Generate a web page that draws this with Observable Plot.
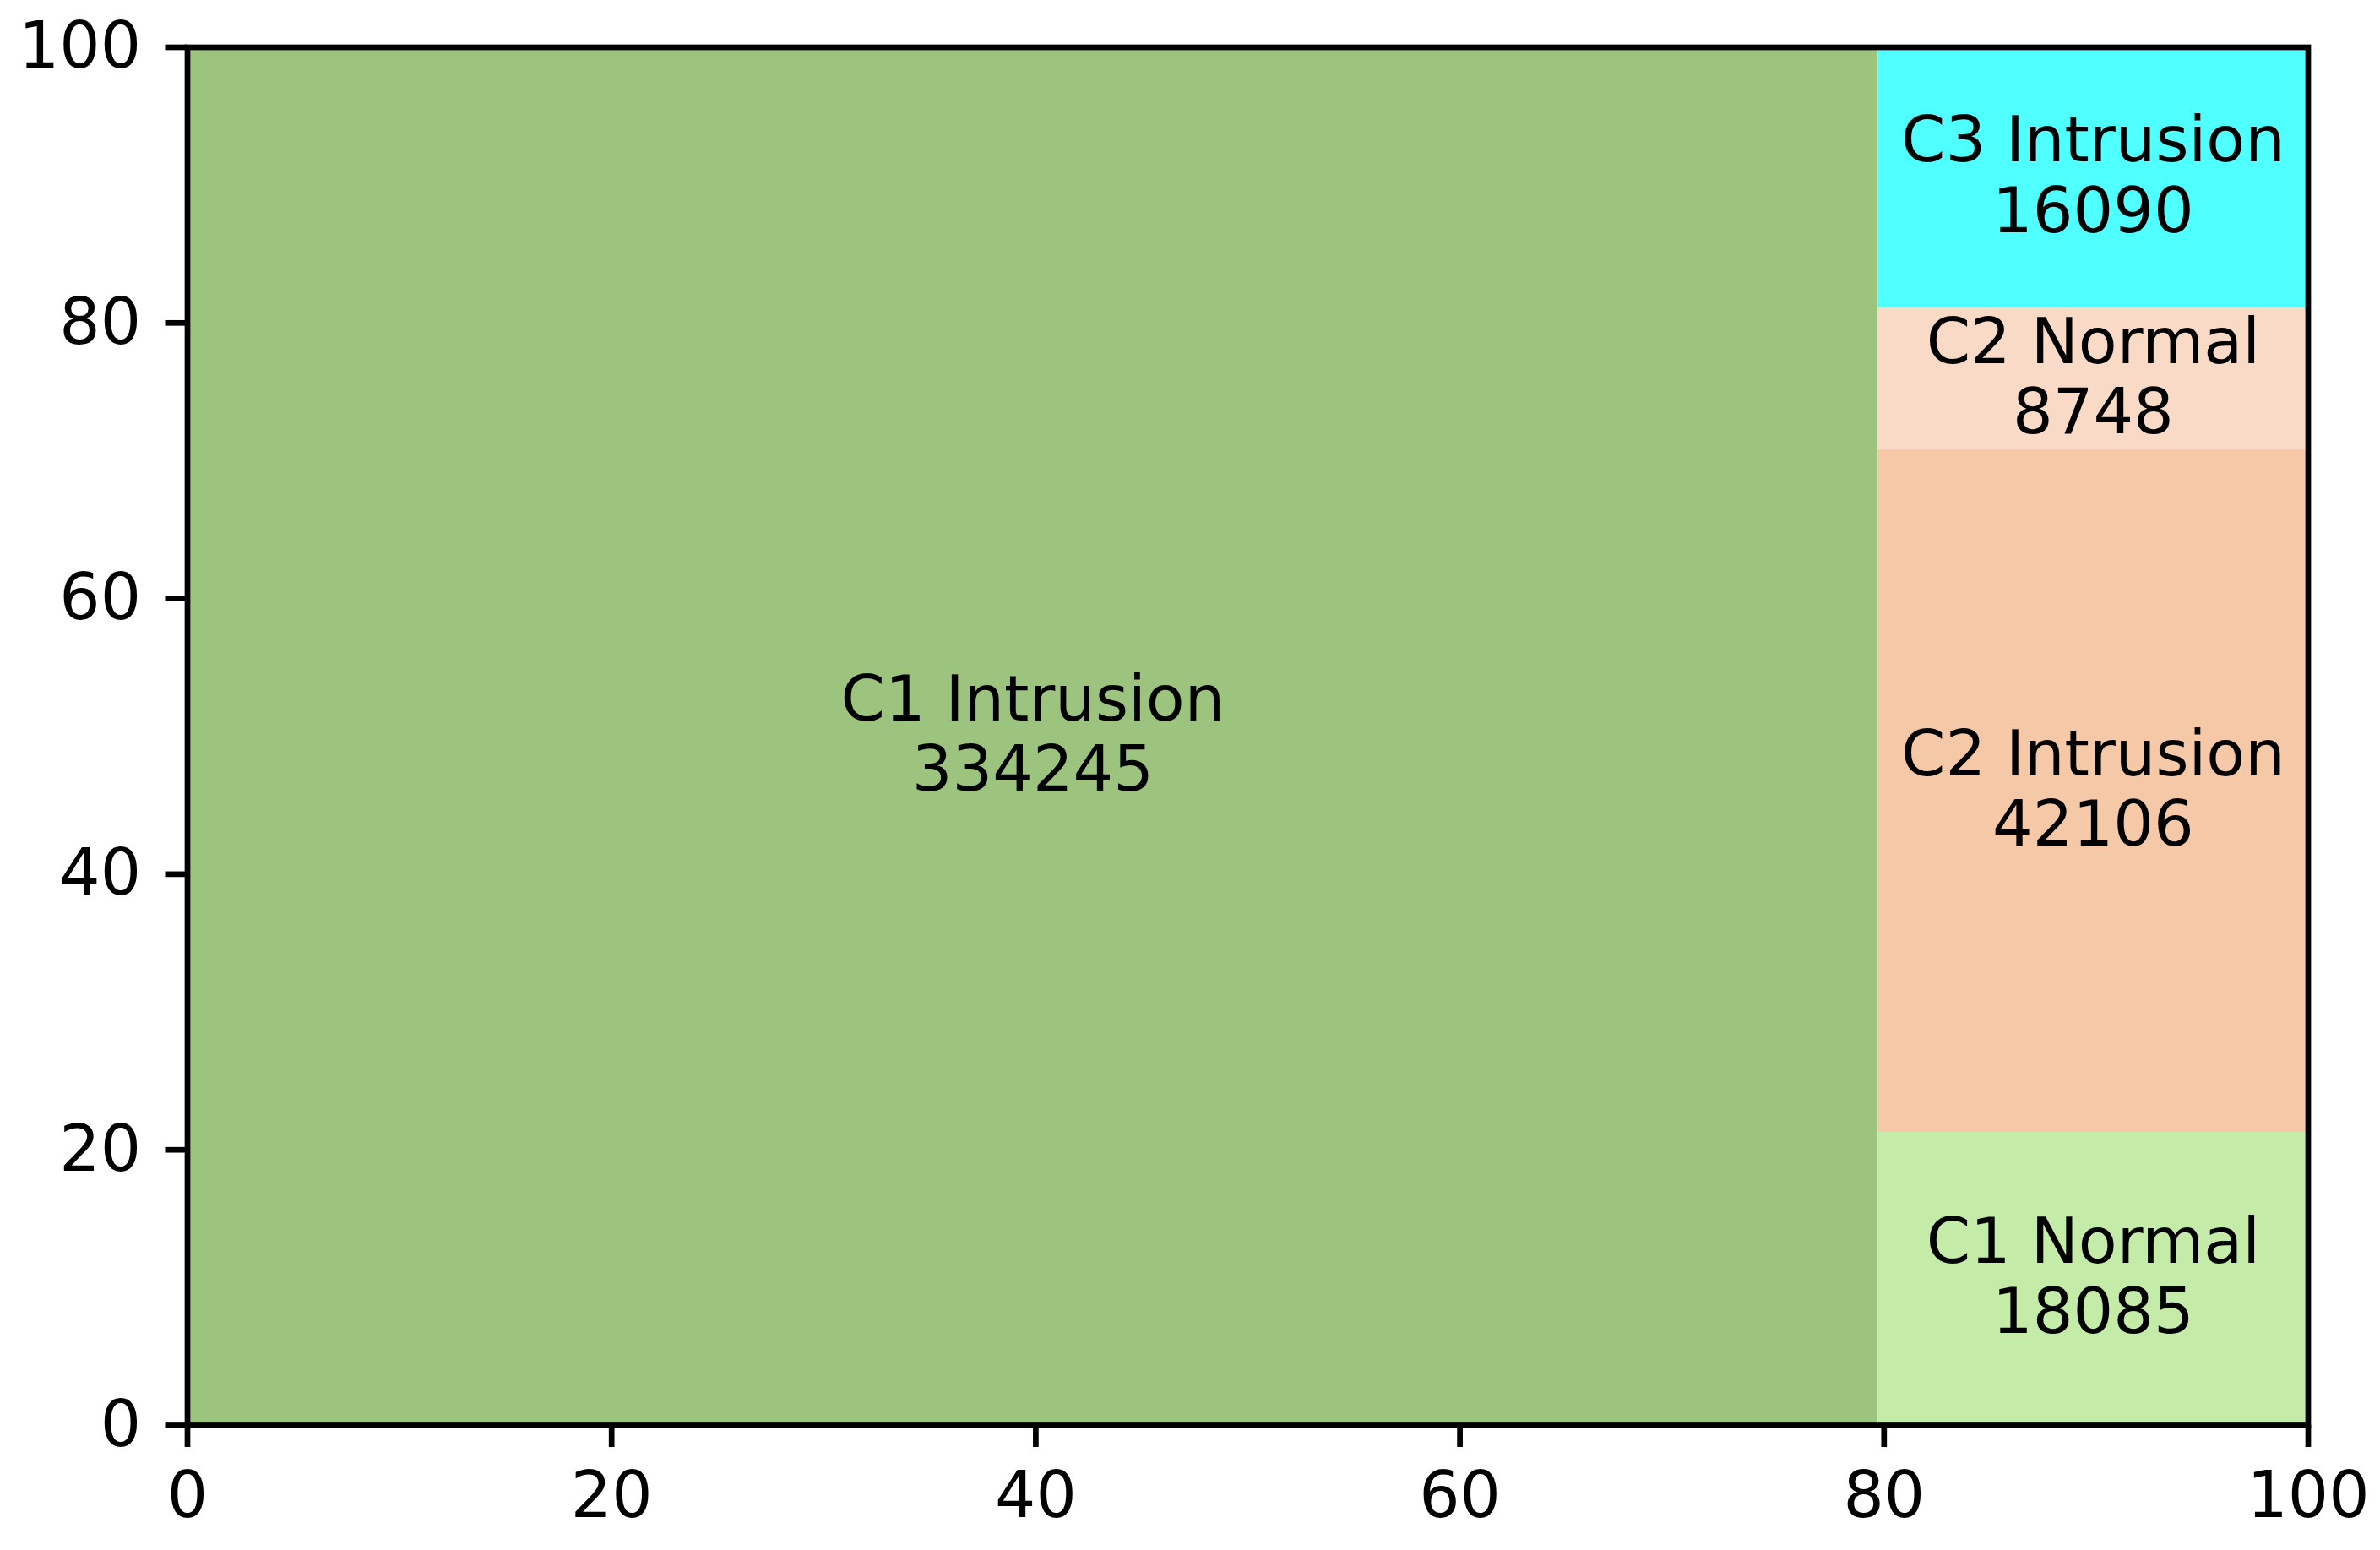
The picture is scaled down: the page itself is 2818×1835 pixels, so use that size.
<!DOCTYPE html>
<html>
<head>
<meta charset="utf-8">
<script src="https://cdn.jsdelivr.net/npm/d3@7"></script>
<script src="https://cdn.jsdelivr.net/npm/@observablehq/plot@0.6"></script>
<style>
  html, body { margin: 0; padding: 0; background: white; }
</style>
</head>
<body>
<div id="chart"></div>
<script>
const categories = ["C1 Intrusion", "C1 Normal", "C2 Intrusion", "C2 Normal", "C3 Intrusion"];
const counts = [334245, 18085, 42106, 8748, 16090];
const colors = ["#9dc47e", "#c4eca8", "#f5c8a8", "#f9dac6", "#50ffff"];
const xTicks = [0, 20, 40, 60, 80, 100];
const yTicks = [0, 20, 40, 60, 80, 100];

// Treemap layout on a 100 x 100 canvas: first item takes a full-height column,
// the remaining items are stacked bottom-to-top in the leftover column.
const total = d3.sum(counts);
const firstW = counts[0] / total * 100;
const rest = counts.slice(1);
const restTotal = d3.sum(rest);
const rects = [{
  label: categories[0], value: counts[0], color: colors[0],
  x1: 0, x2: firstW, y1: 0, y2: 100
}];
let acc = 0;
rest.forEach((v, i) => {
  const h = v / restTotal * 100;
  rects.push({
    label: categories[i + 1], value: v, color: colors[i + 1],
    x1: firstW, x2: 100, y1: acc, y2: acc + h
  });
  acc += h;
});

const FS = 75;
const chart = Plot.plot({
  width: 2818,
  height: 1835,
  marginLeft: 221.5,
  marginRight: 85.5,
  marginTop: 55.5,
  marginBottom: 148,
  style: { fontFamily: "DejaVu Sans", fontSize: FS + "px", color: "black", background: "white" },
  x: { domain: [0, 100], ticks: xTicks },
  y: { domain: [0, 100], ticks: yTicks },
  color: { type: "identity" },
  marks: [
    Plot.rect(rects, { x1: "x1", x2: "x2", y1: "y1", y2: "y2", fill: "color" }),
    Plot.text(rects, {
      x: d => (d.x1 + d.x2) / 2,
      y: d => (d.y1 + d.y2) / 2,
      text: d => d.label + "\n" + d.value,
      fontSize: FS,
      lineHeight: 1.11,
      dy: -4,
      fill: "black"
    }),
    Plot.axisX(xTicks, { tickSize: 26, tickPadding: 29, strokeWidth: 6.7, fontSize: FS + 1, label: null, stroke: "black", fill: "black" }),
    Plot.axisY(yTicks, { tickSize: 26, tickPadding: 29, strokeWidth: 6.7, fontSize: FS + 1, label: null, stroke: "black", fill: "black" }),
    Plot.frame({ stroke: "black", strokeWidth: 6.7 })
  ]
});
document.getElementById("chart").appendChild(chart);
</script>
</body>
</html>
